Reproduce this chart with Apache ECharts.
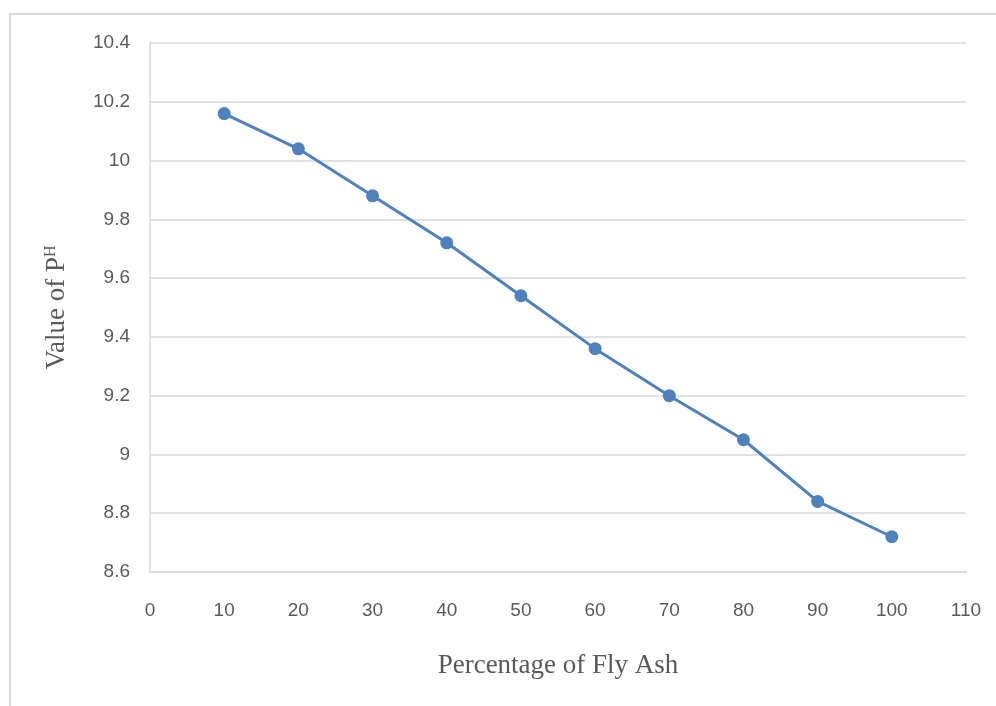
<!DOCTYPE html>
<html>
<head>
<meta charset="utf-8">
<script src="https://cdn.jsdelivr.net/npm/echarts@6/dist/echarts.min.js"></script>
<style>
  html, body { margin: 0; padding: 0; background: #fff; }
  #chart { width: 996px; height: 706px; }
</style>
</head>
<body>
<div id="chart"></div>
<script>
// fly ash percentage vs pH
const flyAsh = [10, 20, 30, 40, 50, 60, 70, 80, 90, 100];
const phValues = [10.16, 10.04, 9.88, 9.72, 9.54, 9.36, 9.2, 9.05, 8.84, 8.72];

const chart = echarts.init(document.getElementById("chart"));
const tickFont = { color: "#595959", fontSize: 19, fontFamily: "Liberation Sans" };

chart.setOption({
  animation: false,
  graphic: [{
    type: "rect",
    shape: { x: 10, y: 14, width: 1010, height: 720 },
    style: { fill: "none", stroke: "#d9d9d9", lineWidth: 2 },
    silent: true
  }],
  grid: { left: 150, right: 30, top: 43, bottom: 134 },
  xAxis: {
    type: "value",
    min: 0, max: 110, interval: 10,
    name: "Percentage of Fly Ash",
    nameLocation: "middle",
    nameGap: 80,
    nameTextStyle: { color: "#595959", fontSize: 27, fontFamily: "Liberation Serif" },
    axisLine: { show: true, lineStyle: { color: "#d9d9d9", width: 1.5 } },
    axisTick: { show: false },
    splitLine: { show: false },
    axisLabel: Object.assign({ margin: 29 }, tickFont)
  },
  yAxis: {
    type: "value",
    min: 8.6, max: 10.4, interval: 0.2,
    name: "{a|Value of P}{s|H}",
    nameLocation: "middle",
    nameGap: 80,
    nameTextStyle: {
      rich: {
        a: { color: "#595959", fontSize: 27, fontFamily: "Liberation Serif" },
        s: { color: "#595959", fontSize: 16, fontFamily: "Liberation Serif", verticalAlign: "top", padding: [0, 0, 10, 0] }
      }
    },
    axisLine: { show: true, lineStyle: { color: "#d9d9d9", width: 1.5 } },
    axisTick: { show: false },
    splitLine: { lineStyle: { color: "#d9d9d9", width: 1.5 } },
    axisLabel: Object.assign({ margin: 20 }, tickFont)
  },
  series: [{
    type: "line",
    data: flyAsh.map((x, i) => [x, phValues[i]]),
    symbol: "circle",
    symbolSize: 13,
    lineStyle: { color: "#4f81bd", width: 3 },
    itemStyle: { color: "#4f81bd" }
  }]
});
</script>
</body>
</html>
